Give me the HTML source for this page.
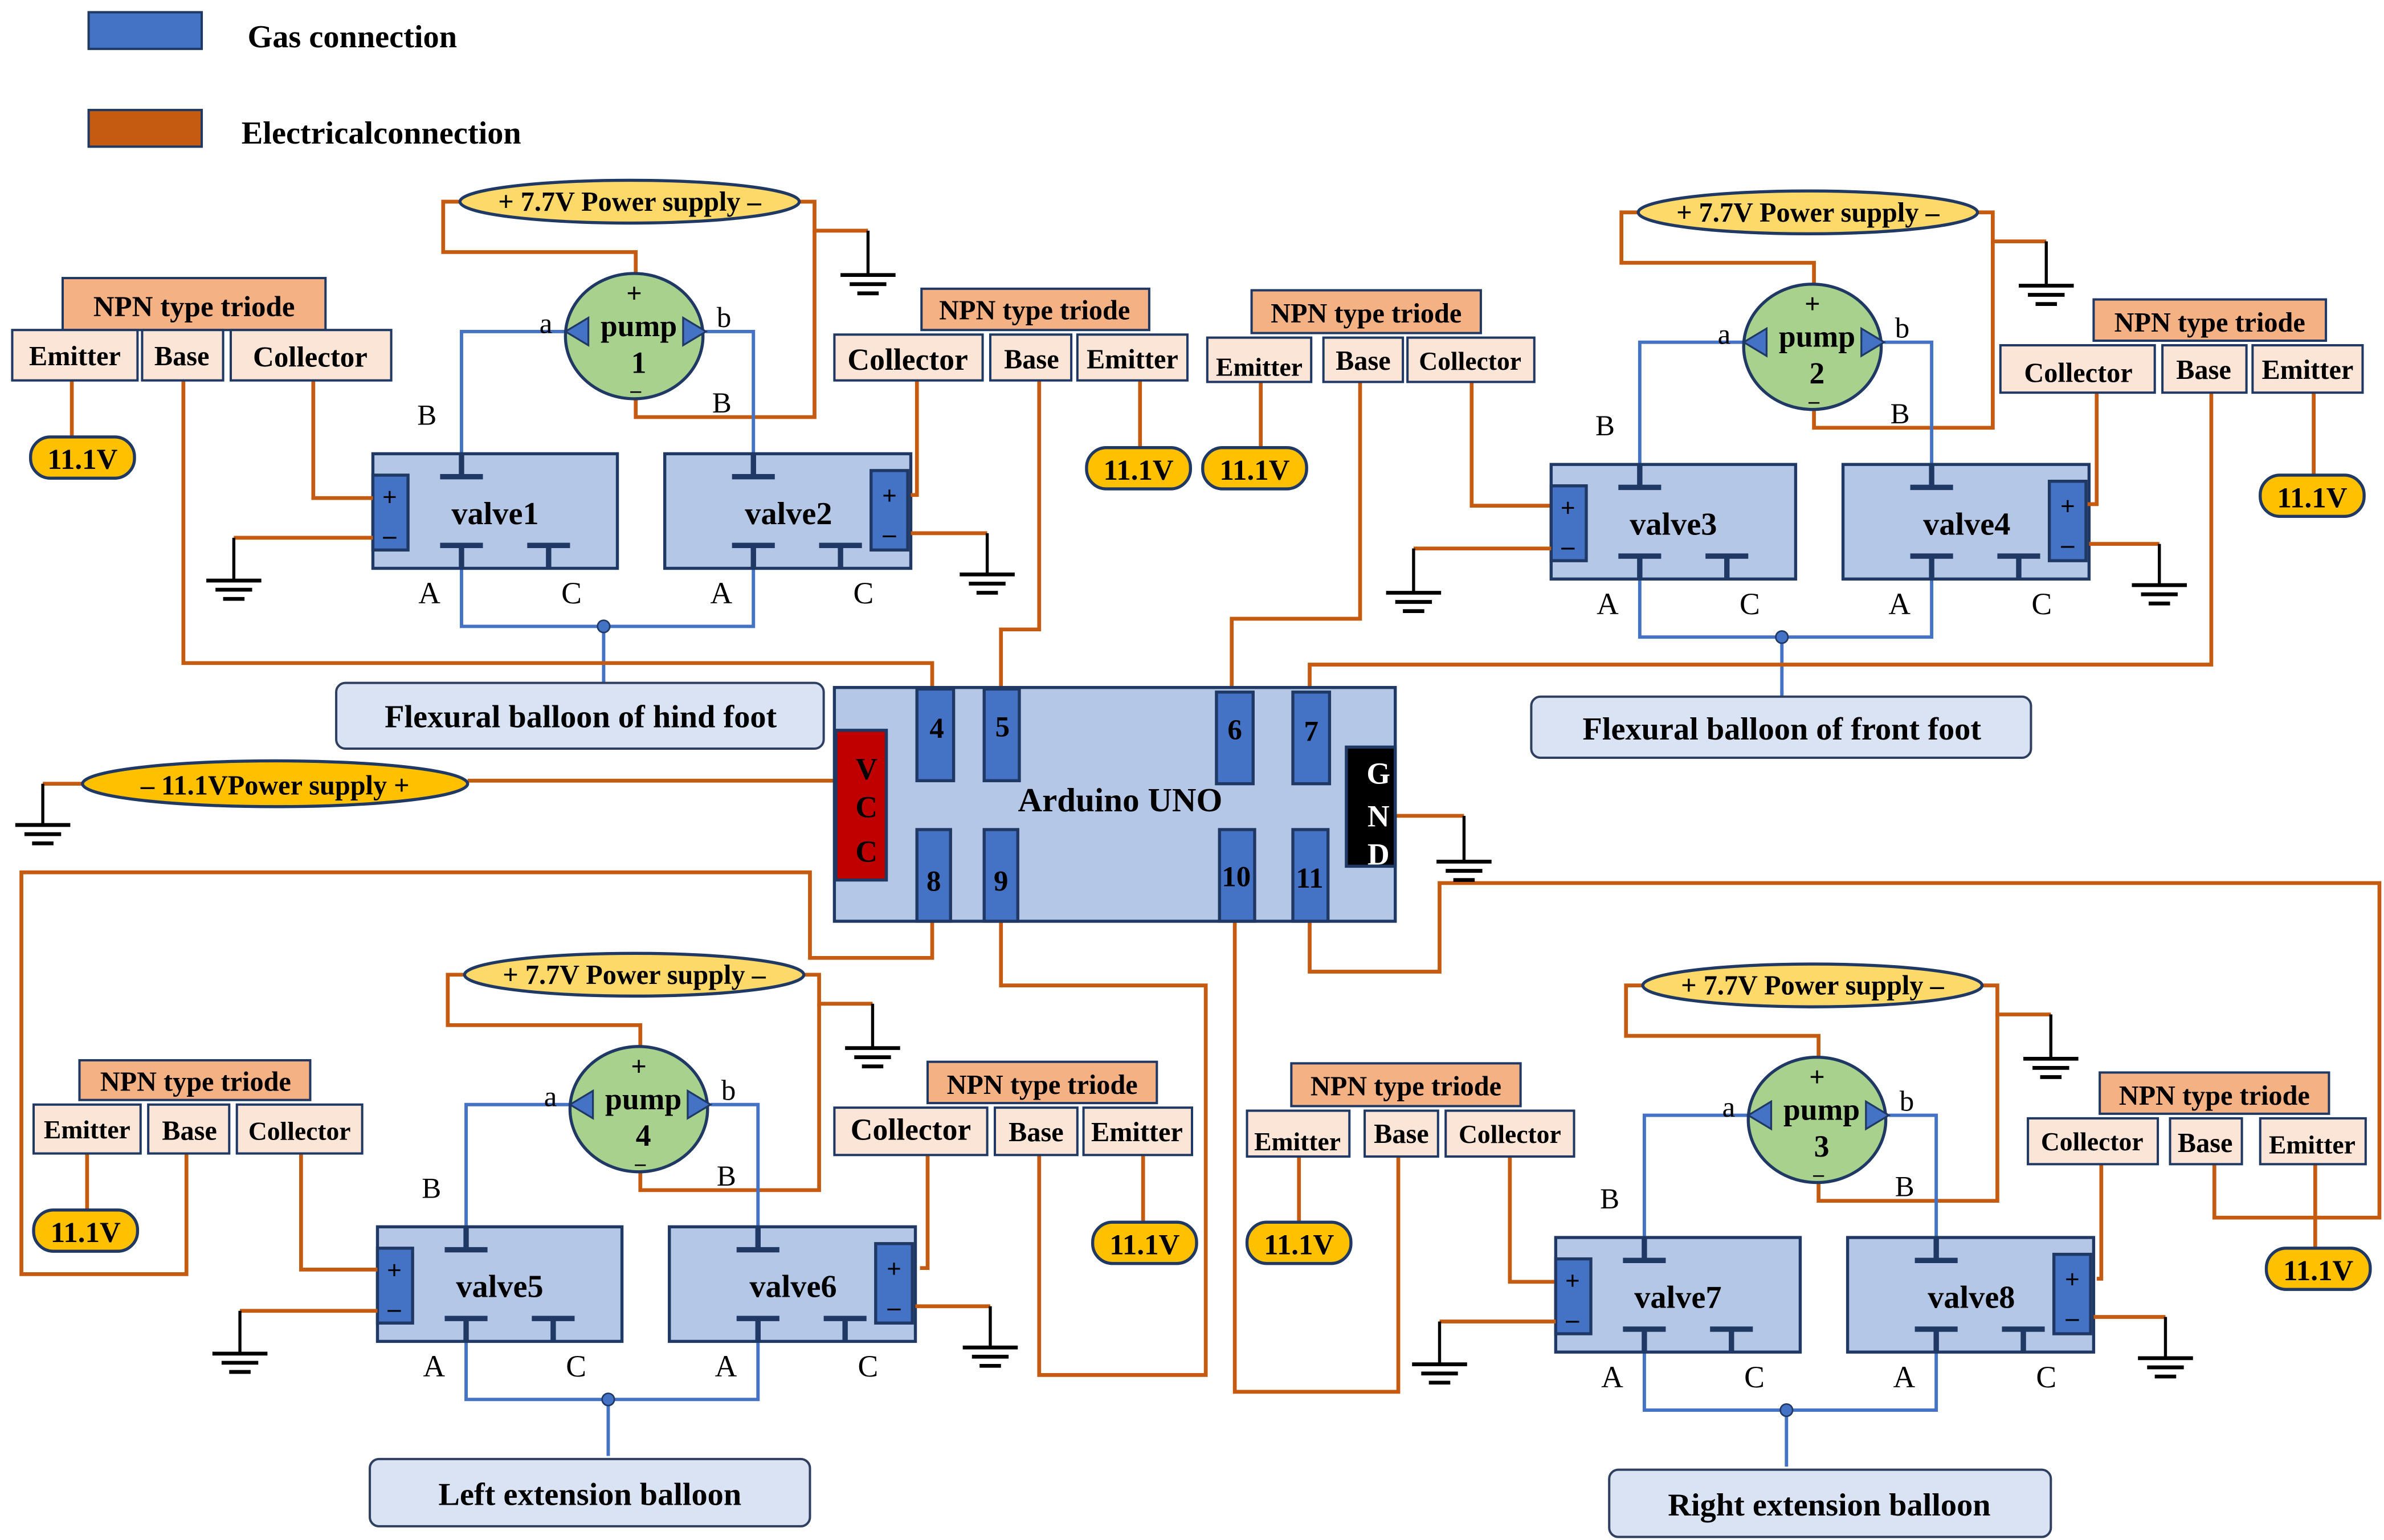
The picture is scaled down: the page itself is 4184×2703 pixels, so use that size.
<!DOCTYPE html>
<html><head><meta charset="utf-8"><style>
html,body{margin:0;padding:0;background:#fff;}
svg{display:block;}
text{font-family:"Liberation Serif",serif;fill:#000;font-weight:bold;}
.r{font-weight:normal;}
.o{stroke:#c55a11;stroke-width:2.5;fill:none;}
.k{stroke:#000;stroke-width:2;fill:none;}
.g{stroke:#4472c4;stroke-width:2.2;fill:none;}
.n{stroke:#1f3864;stroke-width:3.5;fill:none;}
.hd{fill:#f4b183;stroke:#1f3864;stroke-width:1.5;}
.cl{fill:#fbe5d6;stroke:#1f3864;stroke-width:1.5;}
.pl{fill:#ffc000;stroke:#1f3864;stroke-width:2;}
.bl{fill:#dae3f3;stroke:#2f3f5f;stroke-width:1.5;}
.pin{fill:#4472c4;stroke:#1f3864;stroke-width:2;}
</style></head><body>
<svg width="4184" height="2703" viewBox="0 0 1560 1008" preserveAspectRatio="none" xmlns="http://www.w3.org/2000/svg">
<defs>
<g id="gnd"><line x1="-18" y1="0" x2="18" y2="0" stroke="#000" stroke-width="2.5"/><line x1="-12" y1="6" x2="12" y2="6" stroke="#000" stroke-width="2.5"/><line x1="-7" y1="12" x2="7" y2="12" stroke="#000" stroke-width="2.5"/></g>
<g id="mod">
 <polyline class="o" points="301,132 290,132 290,165 416,165 416,180"/>
 <polyline class="o" points="523,132 533,132 533,151 568,151"/>
 <polyline class="k" points="568,151 568,180"/>
 <use href="#gnd" x="568" y="180"/>
 <polyline class="o" points="533,151 533,273 416,273 416,260"/>
 <ellipse cx="412" cy="132" rx="111" ry="14" fill="#fdd96a" stroke="#1f3864" stroke-width="2"/>
 <polyline class="g" points="370,217 302,217 302,297"/>
 <polyline class="g" points="462,217 493,217 493,297"/>
 <polyline class="g" points="302,372 302,410 493,410 493,372"/>
 <line class="g" x1="395" y1="410" x2="395" y2="447"/>
 <circle cx="395" cy="410" r="4" fill="#4472c4" stroke="#1f3864"/>
 <ellipse cx="415" cy="220" rx="45" ry="41" fill="#a9d18e" stroke="#1f3864" stroke-width="2"/>
 <polygon points="370,217 385,208 385,226" fill="#4472c4" stroke="#1f3864" stroke-width="1.2"/>
 <polygon points="462,217 447,208 447,226" fill="#4472c4" stroke="#1f3864" stroke-width="1.2"/>
 <rect x="244" y="297" width="160" height="75" fill="#b4c7e7" stroke="#1f3864" stroke-width="2"/>
 <rect x="244" y="311" width="23" height="49" fill="#4472c4" stroke="#1f3864" stroke-width="2"/>
 <path class="n" d="M302,297V312M288,312H316M302,372V357M288,357H316M359,372V357M345,357H373"/>
 <rect x="435" y="297" width="161" height="75" fill="#b4c7e7" stroke="#1f3864" stroke-width="2"/>
 <rect x="570" y="308" width="24" height="52" fill="#4472c4" stroke="#1f3864" stroke-width="2"/>
 <path class="n" d="M493,297V312M479,312H507M493,372V357M479,357H507M550,372V357M536,357H564"/>
</g>
</defs>

<rect x="58" y="8" width="74" height="24" fill="#4472c4" stroke="#1f3864" stroke-width="1.5"/>
<text x="162" y="31" font-size="21">Gas connection</text>
<rect x="58" y="72" width="74" height="24" fill="#c55a11" stroke="#1f3864" stroke-width="1.5"/>
<text x="158" y="94" font-size="21">Electricalconnection</text>

<use href="#mod"/>
<use href="#mod" x="771" y="7"/>
<use href="#mod" x="3" y="506"/>
<use href="#mod" x="774" y="513"/>

<polyline class="o" points="244,352 153,352"/><polyline class="k" points="153,352 153,380"/><use href="#gnd" x="153" y="380"/>
<polyline class="o" points="596,349 646,349"/><polyline class="k" points="646,349 646,376"/><use href="#gnd" x="646" y="376"/>
<polyline class="o" points="1015,359 925,359"/><polyline class="k" points="925,359 925,388"/><use href="#gnd" x="925" y="388"/>
<polyline class="o" points="1367,356 1413,356"/><polyline class="k" points="1413,356 1413,383"/><use href="#gnd" x="1413" y="383"/>
<polyline class="o" points="247,858 157,858"/><polyline class="k" points="157,858 157,886"/><use href="#gnd" x="157" y="886"/>
<polyline class="o" points="599,855 648,855"/><polyline class="k" points="648,855 648,882"/><use href="#gnd" x="648" y="882"/>
<polyline class="o" points="1018,865 942,865"/><polyline class="k" points="942,865 942,893"/><use href="#gnd" x="942" y="893"/>
<polyline class="o" points="1370,862 1417,862"/><polyline class="k" points="1417,862 1417,889"/><use href="#gnd" x="1417" y="889"/>

<g font-size="18">
<g transform="translate(0,0)">
 <text x="412" y="138" text-anchor="middle" font-size="18">+ 7.7V Power supply –</text>
 <text x="415" y="198" text-anchor="middle">+</text>
 <text x="418" y="220" text-anchor="middle" font-size="20">pump</text>
 <text x="418" y="244" text-anchor="middle" font-size="20">1</text>
 <text x="416" y="260" text-anchor="middle" font-size="14">–</text>
 <text class="r" x="353" y="218" font-size="19">a</text><text class="r" x="469" y="214" font-size="19">b</text>
 <text class="r" x="273" y="278" font-size="19">B</text><text class="r" x="466" y="270" font-size="19">B</text>
 <text x="255" y="331" text-anchor="middle" font-size="17">+</text><text x="255" y="356" text-anchor="middle" font-size="17">–</text>
 <text x="582" y="330" text-anchor="middle" font-size="17">+</text><text x="582" y="355" text-anchor="middle" font-size="17">–</text>
 <text x="324" y="343" text-anchor="middle" font-size="21">valve1</text>
 <text x="516" y="343" text-anchor="middle" font-size="21">valve2</text>
 <text class="r" x="281" y="395" text-anchor="middle" font-size="20">A</text><text class="r" x="374" y="395" text-anchor="middle" font-size="20">C</text>
 <text class="r" x="472" y="395" text-anchor="middle" font-size="20">A</text><text class="r" x="565" y="395" text-anchor="middle" font-size="20">C</text>
</g>
<g transform="translate(771,7)">
 <text x="412" y="138" text-anchor="middle" font-size="18">+ 7.7V Power supply –</text>
 <text x="415" y="198" text-anchor="middle">+</text>
 <text x="418" y="220" text-anchor="middle" font-size="20">pump</text>
 <text x="418" y="244" text-anchor="middle" font-size="20">2</text>
 <text x="416" y="260" text-anchor="middle" font-size="14">–</text>
 <text class="r" x="353" y="218" font-size="19">a</text><text class="r" x="469" y="214" font-size="19">b</text>
 <text class="r" x="273" y="278" font-size="19">B</text><text class="r" x="466" y="270" font-size="19">B</text>
 <text x="255" y="331" text-anchor="middle" font-size="17">+</text><text x="255" y="356" text-anchor="middle" font-size="17">–</text>
 <text x="582" y="330" text-anchor="middle" font-size="17">+</text><text x="582" y="355" text-anchor="middle" font-size="17">–</text>
 <text x="324" y="343" text-anchor="middle" font-size="21">valve3</text>
 <text x="516" y="343" text-anchor="middle" font-size="21">valve4</text>
 <text class="r" x="281" y="395" text-anchor="middle" font-size="20">A</text><text class="r" x="374" y="395" text-anchor="middle" font-size="20">C</text>
 <text class="r" x="472" y="395" text-anchor="middle" font-size="20">A</text><text class="r" x="565" y="395" text-anchor="middle" font-size="20">C</text>
</g>
<g transform="translate(3,506)">
 <text x="412" y="138" text-anchor="middle" font-size="18">+ 7.7V Power supply –</text>
 <text x="415" y="198" text-anchor="middle">+</text>
 <text x="418" y="220" text-anchor="middle" font-size="20">pump</text>
 <text x="418" y="244" text-anchor="middle" font-size="20">4</text>
 <text x="416" y="260" text-anchor="middle" font-size="14">–</text>
 <text class="r" x="353" y="218" font-size="19">a</text><text class="r" x="469" y="214" font-size="19">b</text>
 <text class="r" x="273" y="278" font-size="19">B</text><text class="r" x="466" y="270" font-size="19">B</text>
 <text x="255" y="331" text-anchor="middle" font-size="17">+</text><text x="255" y="356" text-anchor="middle" font-size="17">–</text>
 <text x="582" y="330" text-anchor="middle" font-size="17">+</text><text x="582" y="355" text-anchor="middle" font-size="17">–</text>
 <text x="324" y="343" text-anchor="middle" font-size="21">valve5</text>
 <text x="516" y="343" text-anchor="middle" font-size="21">valve6</text>
 <text class="r" x="281" y="395" text-anchor="middle" font-size="20">A</text><text class="r" x="374" y="395" text-anchor="middle" font-size="20">C</text>
 <text class="r" x="472" y="395" text-anchor="middle" font-size="20">A</text><text class="r" x="565" y="395" text-anchor="middle" font-size="20">C</text>
</g>
<g transform="translate(774,513)">
 <text x="412" y="138" text-anchor="middle" font-size="18">+ 7.7V Power supply –</text>
 <text x="415" y="198" text-anchor="middle">+</text>
 <text x="418" y="220" text-anchor="middle" font-size="20">pump</text>
 <text x="418" y="244" text-anchor="middle" font-size="20">3</text>
 <text x="416" y="260" text-anchor="middle" font-size="14">–</text>
 <text class="r" x="353" y="218" font-size="19">a</text><text class="r" x="469" y="214" font-size="19">b</text>
 <text class="r" x="273" y="278" font-size="19">B</text><text class="r" x="466" y="270" font-size="19">B</text>
 <text x="255" y="331" text-anchor="middle" font-size="17">+</text><text x="255" y="356" text-anchor="middle" font-size="17">–</text>
 <text x="582" y="330" text-anchor="middle" font-size="17">+</text><text x="582" y="355" text-anchor="middle" font-size="17">–</text>
 <text x="324" y="343" text-anchor="middle" font-size="21">valve7</text>
 <text x="516" y="343" text-anchor="middle" font-size="21">valve8</text>
 <text class="r" x="281" y="395" text-anchor="middle" font-size="20">A</text><text class="r" x="374" y="395" text-anchor="middle" font-size="20">C</text>
 <text class="r" x="472" y="395" text-anchor="middle" font-size="20">A</text><text class="r" x="565" y="395" text-anchor="middle" font-size="20">C</text>
</g>
</g>

<line class="g" x1="1166" y1="452" x2="1166" y2="456"/>

<g>
<polyline class="o" points="47,249 47,287"/>
<polyline class="o" points="120,249 120,434 610,434 610,451"/>
<polyline class="o" points="205,249 205,326 244,326"/>
<polyline class="o" points="600,249 600,324 596,324"/>
<polyline class="o" points="680,249 680,412 655,412 655,451"/>
<polyline class="o" points="746,249 746,293"/>
<polyline class="o" points="825,250 825,293"/>
<polyline class="o" points="890,250 890,405 806,405 806,451"/>
<polyline class="o" points="963,250 963,331 1014,331"/>
<polyline class="o" points="1514,257 1514,311"/>
<polyline class="o" points="1447,257 1447,435 857,435 857,451"/>
<polyline class="o" points="1372,257 1372,330 1366,330"/>
<polyline class="o" points="57,755 57,792"/>
<polyline class="o" points="122,755 122,834 14,834 14,571 530,571 530,627 610,627 610,603"/>
<polyline class="o" points="197,755 197,831 247,831"/>
<polyline class="o" points="748,756 748,800"/>
<polyline class="o" points="680,756 680,900 789,900 789,645 655,645 655,603"/>
<polyline class="o" points="607,756 607,830 602,830"/>
<polyline class="o" points="850,757 850,800"/>
<polyline class="o" points="915,757 915,911 808,911 808,603"/>
<polyline class="o" points="988,757 988,839 1017,839"/>
<polyline class="o" points="1515,762 1515,817"/>
<polyline class="o" points="1449,762 1449,797 1557,797 1557,578 942,578 942,636 857,636 857,603"/>
<polyline class="o" points="1375,762 1375,837 1372,837"/>
<polyline class="o" points="54,513 28,513"/>
<polyline class="k" points="28,513 28,540"/>
<use href="#gnd" x="28" y="540"/>
<polyline class="o" points="306,511 546,511"/>
<polyline class="o" points="913,534 958,534"/>
<polyline class="k" points="958,534 958,564"/>
<use href="#gnd" x="958" y="564"/>
</g>

<g font-size="18">
<rect class="hd" x="41" y="182" width="172" height="34"/><text x="127" y="207" text-anchor="middle" font-size="19">NPN type triode</text>
<rect class="cl" x="8" y="216" width="82" height="33"/><text x="49" y="239" text-anchor="middle">Emitter</text>
<rect class="cl" x="93" y="216" width="53" height="33"/><text x="119" y="239" text-anchor="middle">Base</text>
<rect class="cl" x="151" y="216" width="105" height="33"/><text x="203" y="240" text-anchor="middle" font-size="19">Collector</text>
<rect class="hd" x="603" y="189" width="149" height="27"/><text x="677" y="209" text-anchor="middle">NPN type triode</text>
<rect class="cl" x="546" y="219" width="97" height="30"/><text x="594" y="242" text-anchor="middle" font-size="20">Collector</text>
<rect class="cl" x="648" y="219" width="53" height="30"/><text x="675" y="241" text-anchor="middle">Base</text>
<rect class="cl" x="705" y="219" width="72" height="30"/><text x="741" y="241" text-anchor="middle">Emitter</text>
<rect class="hd" x="819" y="190" width="150" height="28"/><text x="894" y="211" text-anchor="middle">NPN type triode</text>
<rect class="cl" x="790" y="221" width="68" height="29"/><text x="824" y="246" text-anchor="middle" font-size="17">Emitter</text>
<rect class="cl" x="866" y="221" width="52" height="29"/><text x="892" y="242" text-anchor="middle">Base</text>
<rect class="cl" x="921" y="221" width="83" height="29"/><text x="962" y="242" text-anchor="middle" font-size="17">Collector</text>
<rect class="hd" x="1370" y="196" width="152" height="27"/><text x="1446" y="217" text-anchor="middle">NPN type triode</text>
<rect class="cl" x="1309" y="226" width="101" height="31"/><text x="1360" y="250" text-anchor="middle">Collector</text>
<rect class="cl" x="1415" y="226" width="55" height="31"/><text x="1442" y="248" text-anchor="middle">Base</text>
<rect class="cl" x="1474" y="226" width="72" height="31"/><text x="1510" y="248" text-anchor="middle">Emitter</text>
<rect class="hd" x="52" y="694" width="151" height="26"/><text x="128" y="714" text-anchor="middle">NPN type triode</text>
<rect class="cl" x="22" y="723" width="70" height="32"/><text x="57" y="745" text-anchor="middle" font-size="17">Emitter</text>
<rect class="cl" x="97" y="723" width="53" height="32"/><text x="124" y="746" text-anchor="middle">Base</text>
<rect class="cl" x="155" y="723" width="82" height="32"/><text x="196" y="746" text-anchor="middle" font-size="17">Collector</text>
<rect class="hd" x="607" y="695" width="150" height="27"/><text x="682" y="716" text-anchor="middle">NPN type triode</text>
<rect class="cl" x="546" y="725" width="100" height="31"/><text x="596" y="746" text-anchor="middle" font-size="20">Collector</text>
<rect class="cl" x="651" y="725" width="54" height="31"/><text x="678" y="747" text-anchor="middle">Base</text>
<rect class="cl" x="709" y="725" width="71" height="31"/><text x="744" y="747" text-anchor="middle">Emitter</text>
<rect class="hd" x="845" y="696" width="150" height="28"/><text x="920" y="717" text-anchor="middle">NPN type triode</text>
<rect class="cl" x="816" y="727" width="67" height="30"/><text x="849" y="753" text-anchor="middle" font-size="17">Emitter</text>
<rect class="cl" x="893" y="727" width="48" height="30"/><text x="917" y="748" text-anchor="middle">Base</text>
<rect class="cl" x="946" y="727" width="84" height="30"/><text x="988" y="748" text-anchor="middle" font-size="17">Collector</text>
<rect class="hd" x="1374" y="702" width="150" height="27"/><text x="1449" y="723" text-anchor="middle">NPN type triode</text>
<rect class="cl" x="1327" y="732" width="85" height="30"/><text x="1369" y="753" text-anchor="middle" font-size="17">Collector</text>
<rect class="cl" x="1420" y="732" width="47" height="30"/><text x="1443" y="754" text-anchor="middle">Base</text>
<rect class="cl" x="1479" y="732" width="69" height="30"/><text x="1513" y="755" text-anchor="middle" font-size="17">Emitter</text>
</g>

<g font-size="19">
<rect class="pl" x="20" y="286" width="68" height="27" rx="13"/><text x="54" y="307" text-anchor="middle">11.1V</text>
<rect class="pl" x="711" y="293" width="68" height="27" rx="13"/><text x="745" y="314" text-anchor="middle">11.1V</text>
<rect class="pl" x="787" y="293" width="68" height="27" rx="13"/><text x="821" y="314" text-anchor="middle">11.1V</text>
<rect class="pl" x="1479" y="311" width="68" height="27" rx="13"/><text x="1513" y="332" text-anchor="middle">11.1V</text>
<rect class="pl" x="22" y="792" width="68" height="27" rx="13"/><text x="56" y="813" text-anchor="middle">11.1V</text>
<rect class="pl" x="715" y="800" width="68" height="27" rx="13"/><text x="749" y="821" text-anchor="middle">11.1V</text>
<rect class="pl" x="816" y="800" width="68" height="27" rx="13"/><text x="850" y="821" text-anchor="middle">11.1V</text>
<rect class="pl" x="1483" y="817" width="68" height="27" rx="13"/><text x="1517" y="838" text-anchor="middle">11.1V</text>
</g>

<g font-size="21">
<rect class="bl" x="220" y="447" width="319" height="43" rx="6"/><text x="380" y="476" text-anchor="middle">Flexural balloon of hind foot</text>
<rect class="bl" x="1002" y="456" width="327" height="40" rx="6"/><text x="1166" y="484" text-anchor="middle">Flexural balloon of front foot</text>
<rect class="bl" x="242" y="955" width="288" height="44" rx="6"/><text x="386" y="985" text-anchor="middle">Left extension balloon</text>
<rect class="bl" x="1053" y="962" width="289" height="44" rx="6"/><text x="1197" y="992" text-anchor="middle">Right extension balloon</text>
</g>

<ellipse cx="180" cy="513" rx="126" ry="15" fill="#ffc000" stroke="#1f3864" stroke-width="2"/>
<text x="180" y="520" text-anchor="middle" font-size="18">–  11.1VPower supply   +</text>

<rect x="546" y="450" width="367" height="153" fill="#b4c7e7" stroke="#1f3864" stroke-width="2"/>
<rect x="547" y="478" width="33" height="98" fill="#c00000" stroke="#1f3864" stroke-width="2"/>
<text x="567" y="510" text-anchor="middle" font-size="20">V</text>
<text x="567" y="535" text-anchor="middle" font-size="20">C</text>
<text x="567" y="564" text-anchor="middle" font-size="20">C</text>
<rect x="881" y="489" width="32" height="78" fill="#000" stroke="#1f3864" stroke-width="2"/>
<text x="902" y="513" text-anchor="middle" font-size="20" style="fill:#fff">G</text>
<text x="902" y="541" text-anchor="middle" font-size="20" style="fill:#fff">N</text>
<text x="902" y="566" text-anchor="middle" font-size="20" style="fill:#fff">D</text>
<rect class="pin" x="600" y="451" width="24" height="60"/><text x="613" y="483" text-anchor="middle" font-size="19">4</text>
<rect class="pin" x="644" y="451" width="23" height="60"/><text x="656" y="482" text-anchor="middle" font-size="19">5</text>
<rect class="pin" x="796" y="453" width="24" height="60"/><text x="808" y="484" text-anchor="middle" font-size="19">6</text>
<rect class="pin" x="846" y="453" width="24" height="60"/><text x="858" y="485" text-anchor="middle" font-size="19">7</text>
<rect class="pin" x="600" y="543" width="22" height="60"/><text x="611" y="583" text-anchor="middle" font-size="19">8</text>
<rect class="pin" x="644" y="543" width="22" height="60"/><text x="655" y="583" text-anchor="middle" font-size="19">9</text>
<rect class="pin" x="798" y="543" width="23" height="60"/><text x="809" y="580" text-anchor="middle" font-size="19">10</text>
<rect class="pin" x="846" y="543" width="23" height="60"/><text x="857" y="581" text-anchor="middle" font-size="19">11</text>
<text x="733" y="531" text-anchor="middle" font-size="22">Arduino  UNO</text>
</svg>
</body></html>
